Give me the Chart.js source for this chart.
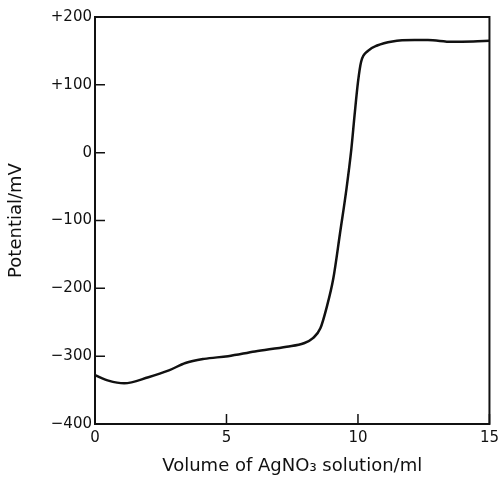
<!DOCTYPE html>
<html>
<head>
<meta charset="utf-8">
<script src="https://cdn.jsdelivr.net/npm/chart.js@4/dist/chart.umd.min.js"></script>
<style>
html,body{margin:0;padding:0;background:#fff;}
#wrap{width:504px;height:478px;}
</style>
</head>
<body>
<div id="wrap"><canvas id="c" width="504" height="478"></canvas></div>
<script>
const volume = [0, 0.51, 1.11, 2.03, 2.81, 3.44, 4.15, 5.06, 6.08, 7.29, 7.94, 8.3, 8.57, 8.81, 9.06, 9.32, 9.56, 9.75, 9.87, 10.0, 10.12, 10.38, 10.73, 11.31, 12.15, 12.66, 13.57, 14.38, 15];
const potential = [-328, -336, -340, -331, -321, -310, -304, -300, -293, -286, -281, -273, -259, -228, -186, -118, -54, 6, 55, 104, 134, 150, 158, 164, 166, 166, 163.5, 164, 165];
const xTicks = [0, 5, 10, 15];
const yTicks = [200, 100, 0, -100, -200, -300, -400];
const yTickLabels = {"200": "+200", "100": "+100", "0": "0", "-100": "\u2212100", "-200": "\u2212200", "-300": "\u2212300", "-400": "\u2212400"};

const frameAndTicks = {
  id: 'frameAndTicks',
  afterDatasetsDraw(chart) {
    const {ctx, chartArea: a, scales} = chart;
    ctx.save();
    ctx.strokeStyle = '#111';
    ctx.lineWidth = 2;
    ctx.strokeRect(a.left, a.top, a.right - a.left, a.bottom - a.top);
    ctx.lineWidth = 1.5;
    ctx.beginPath();
    yTicks.forEach(v => {
      const y = scales.y.getPixelForValue(v);
      ctx.moveTo(a.left, y); ctx.lineTo(a.left + 10, y);
    });
    xTicks.forEach(v => {
      const x = scales.x.getPixelForValue(v);
      ctx.moveTo(x, a.bottom); ctx.lineTo(x, a.bottom - 10);
    });
    ctx.stroke();
    ctx.restore();
  }
};

new Chart(document.getElementById('c'), {
  type: 'scatter',
  data: {
    datasets: [{
      data: volume.map((v, i) => ({x: v, y: potential[i]})),
      showLine: true,
      borderColor: '#111',
      borderWidth: 2.5,
      pointRadius: 0,
      cubicInterpolationMode: 'monotone',
      fill: false
    }]
  },
  options: {
    responsive: false,
    animation: false,
    layout: {padding: {top: 17, right: 9, left: 0, bottom: 0}},
    plugins: {legend: {display: false}, tooltip: {enabled: false}},
    scales: {
      x: {
        type: 'linear', min: 0, max: 15,
        afterBuildTicks: s => { s.ticks = xTicks.map(v => ({value: v})); },
        afterFit: s => { s.height = 54; },
        grid: {display: false, drawTicks: false},
        border: {display: false},
        ticks: {color: '#111', font: {family: 'DejaVu Sans', size: 15}, padding: 5},
        title: {display: true, text: 'Volume of AgNO\u2083 solution/ml', color: '#111', font: {family: 'DejaVu Sans', size: 18}, padding: {top: 2, bottom: 1}}
      },
      y: {
        type: 'linear', min: -400, max: 200,
        afterBuildTicks: s => { s.ticks = yTicks.map(v => ({value: v})); },
        afterFit: s => { s.width = 95; },
        grid: {display: false, drawTicks: false},
        border: {display: false},
        ticks: {color: '#111', font: {family: 'DejaVu Sans', size: 15}, padding: 3, callback: v => yTickLabels[String(v)]},
        title: {display: true, text: 'Potential/mV', color: '#111', font: {family: 'DejaVu Sans', size: 18}, padding: {top: 6, bottom: 0}}
      }
    }
  },
  plugins: [frameAndTicks]
});
</script>
</body>
</html>
